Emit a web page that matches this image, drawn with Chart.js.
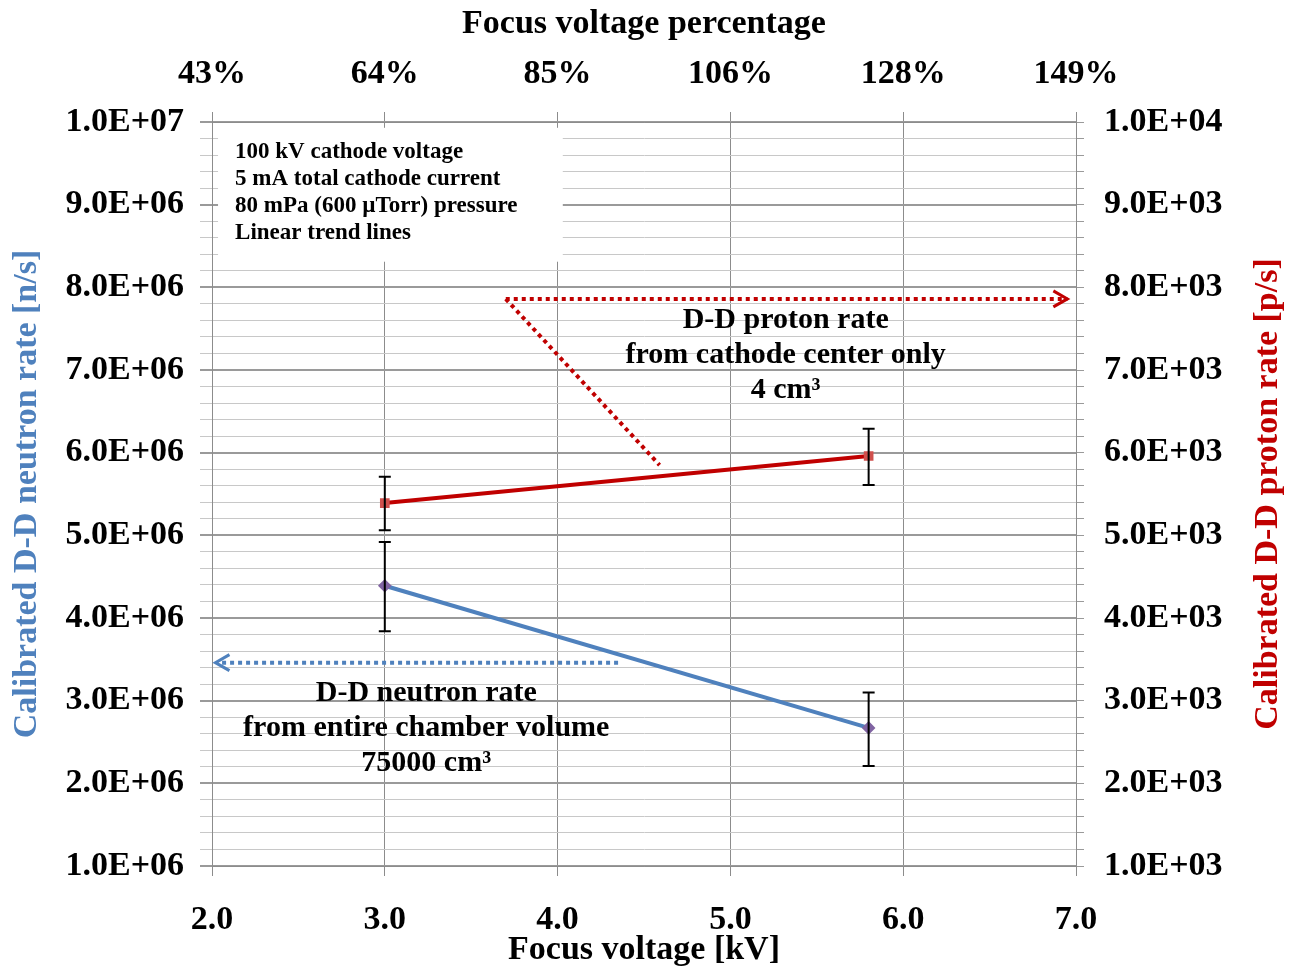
<!DOCTYPE html>
<html lang="en">
<head>
<meta charset="UTF-8">
<title>D-D neutron and proton rates vs focus voltage</title>
<script src="https://cdn.jsdelivr.net/npm/chart.js"></script>
<style>
    body { margin: 0; background: #ffffff; }
    canvas { display: block; }
</style>
</head>
<body>
<canvas id="rateChart" width="1292" height="967"></canvas>
<script>
// focus voltage [kV] for both measurements
const voltageKV = [3.0, 5.8];

// neutron rate, left axis [n/s]
const neutronRate = [4.39e6, 2.67e6];
const neutronLow = [3.84e6, 2.21e6];
const neutronHigh = [4.92e6, 3.10e6];

// proton rate, right axis [p/s]
const protonRate = [5.39e3, 5.96e3];
const protonLow = [5.06e3, 5.61e3];
const protonHigh = [5.71e3, 6.29e3];

// top axis labels (percentage of focus voltage), one per kV tick 2..7
const pctLabels = ['43%', '64%', '85%', '106%', '128%', '149%'];

const boxLines = [
    '100 kV cathode voltage',
    '5 mA total cathode current',
    '80 mPa (600 \u00B5Torr) pressure',
    'Linear trend lines'
];
const protonNote = ['D-D proton rate', 'from cathode center only', '4 cm\u00B3'];
const neutronNote = ['D-D neutron rate', 'from entire chamber volume', '75000 cm\u00B3'];

const BLUE = '#4F81BD';
const RED = '#C00000';
const FONT = '"Liberation Serif", "Times New Roman", serif';

function sci(v, unit) {
    const r = v / unit;
    if (Math.abs(r - Math.round(r)) > 1e-6) return '';
    const e = Math.floor(Math.log10(v) + 1e-9);
    const m = v / Math.pow(10, e);
    return m.toFixed(1) + 'E+' + String(e).padStart(2, '0');
}

function isMajor(v, unit) {
    const r = v / unit;
    return Math.abs(r - Math.round(r)) < 1e-6;
}

// error bars, text box and arrow notes
const extras = {
    id: 'extras',
    beforeDatasetsDraw(chart) {
        const { ctx, scales: { x, y } } = chart;
        // white text box hiding the grid
        const l = x.getPixelForValue(2.035), r = x.getPixelForValue(4.03);
        const t = y.getPixelForValue(9.93e6), b = y.getPixelForValue(8.31e6);
        ctx.save();
        ctx.fillStyle = '#ffffff';
        ctx.fillRect(l, t, r - l, b - t);
        ctx.fillStyle = '#000';
        ctx.font = 'bold 23px ' + FONT;
        ctx.textBaseline = 'middle';
        boxLines.forEach((s, i) => ctx.fillText(s, l + 17, t + 24 + i * 27));
        ctx.restore();
    },
    afterDatasetsDraw(chart) {
        const { ctx, scales: { x, y, y2 } } = chart;
        ctx.save();
        ctx.strokeStyle = '#000';
        ctx.lineWidth = 2;
        const bar = (px, y1, y2p) => {
            ctx.beginPath();
            ctx.moveTo(px, y1); ctx.lineTo(px, y2p);
            ctx.moveTo(px - 6, y1); ctx.lineTo(px + 6, y1);
            ctx.moveTo(px - 6, y2p); ctx.lineTo(px + 6, y2p);
            ctx.stroke();
        };
        voltageKV.forEach((v, i) => {
            const px = x.getPixelForValue(v);
            bar(px, y.getPixelForValue(neutronHigh[i]), y.getPixelForValue(neutronLow[i]));
            bar(px, y2.getPixelForValue(protonHigh[i]), y2.getPixelForValue(protonLow[i]));
        });
        ctx.restore();
    },
    afterDraw(chart) {
        const { ctx, scales: { x, y, y2 }, chartArea } = chart;
        ctx.save();

        // red dotted arrow to the right axis
        const ax = x.getPixelForValue(3.70), ay = y.getPixelForValue(7.86e6);
        const bx = x.getPixelForValue(6.95);
        const dx = x.getPixelForValue(4.59), dy = y.getPixelForValue(5.85e6);
        ctx.strokeStyle = RED;
        ctx.lineWidth = 4;
        ctx.setLineDash([4, 4]);
        ctx.beginPath();
        ctx.moveTo(ax, ay); ctx.lineTo(bx, ay);
        ctx.moveTo(ax, ay); ctx.lineTo(dx, dy);
        ctx.stroke();
        ctx.setLineDash([]);
        ctx.lineWidth = 3;
        ctx.beginPath();
        ctx.moveTo(bx - 14, ay - 8); ctx.lineTo(bx, ay); ctx.lineTo(bx - 14, ay + 8);
        ctx.stroke();

        // blue dotted arrow to the left axis
        const cx = x.getPixelForValue(4.35), cy = y.getPixelForValue(3.46e6);
        const ex = x.getPixelForValue(2.02);
        ctx.strokeStyle = BLUE;
        ctx.lineWidth = 4;
        ctx.setLineDash([4, 4]);
        ctx.beginPath();
        ctx.moveTo(cx, cy); ctx.lineTo(ex + 4, cy);
        ctx.stroke();
        ctx.setLineDash([]);
        ctx.lineWidth = 3;
        ctx.beginPath();
        ctx.moveTo(ex + 14, cy - 8); ctx.lineTo(ex, cy); ctx.lineTo(ex + 14, cy + 8);
        ctx.stroke();

        // notes
        ctx.fillStyle = '#000';
        ctx.font = 'bold 30px ' + FONT;
        ctx.textAlign = 'center';
        ctx.textBaseline = 'middle';
        const px = x.getPixelForValue(5.32), py = y.getPixelForValue(7.60e6);
        protonNote.forEach((s, i) => ctx.fillText(s, px, py + i * 35));
        const nx = x.getPixelForValue(3.24), ny = y.getPixelForValue(3.09e6);
        neutronNote.forEach((s, i) => ctx.fillText(s, nx, ny + i * 35));

        // right axis title, reading bottom to top
        ctx.font = 'bold 34px ' + FONT;
        ctx.fillStyle = RED;
        ctx.translate(y2.right - 24, (chartArea.top + chartArea.bottom) / 2);
        ctx.rotate(-Math.PI / 2);
        ctx.fillText('Calibrated D-D proton rate [p/s]', 0, 0);
        ctx.restore();
    }
};

const tickFont = { family: FONT, size: 34, weight: 'bold' };

new Chart(document.getElementById('rateChart'), {
    type: 'scatter',
    data: {
        datasets: [{
            label: 'D-D neutron rate',
            data: voltageKV.map((v, i) => ({ x: v, y: neutronRate[i] })),
            showLine: true,
            borderColor: BLUE,
            borderWidth: 4,
            pointStyle: 'rectRot',
            pointRadius: 4,
            pointBackgroundColor: '#8064A2',
            pointBorderColor: '#8064A2',
            yAxisID: 'y'
        }, {
            label: 'D-D proton rate',
            data: voltageKV.map((v, i) => ({ x: v, y: protonRate[i] })),
            showLine: true,
            borderColor: RED,
            borderWidth: 4,
            pointStyle: 'rect',
            pointRadius: 4,
            pointBackgroundColor: '#D0504D',
            pointBorderColor: '#D0504D',
            yAxisID: 'y2'
        }]
    },
    options: {
        responsive: false,
        animation: false,
        layout: { padding: 0 },
        plugins: { legend: { display: false }, tooltip: { enabled: false } },
        scales: {
            x: {
                type: 'linear', position: 'bottom', min: 2, max: 7,
                afterFit: s => { s.height = 101; },
                border: { color: '#8c8c8c', width: 1 },
                grid: { color: '#8c8c8c', lineWidth: 1, tickLength: 10 },
                ticks: { stepSize: 1, color: '#000', font: tickFont, padding: 24,
                         callback: v => v.toFixed(1) },
                title: { display: true, text: 'Focus voltage [kV]', color: '#000',
                         font: tickFont, padding: { top: 0, bottom: -4 } }
            },
            x2: {
                type: 'linear', position: 'top', min: 2, max: 7,
                afterFit: s => { s.height = 122; },
                border: { color: '#8c8c8c', width: 1 },
                grid: { color: '#8c8c8c', lineWidth: 1, tickLength: 10, drawOnChartArea: false },
                ticks: { stepSize: 1, color: '#000', font: tickFont, padding: 17,
                         callback: v => pctLabels[Math.round(v - 2)] },
                title: { display: true, text: 'Focus voltage percentage', color: '#000',
                         font: tickFont, padding: { top: 4, bottom: 0 } }
            },
            y: {
                type: 'linear', position: 'left', min: 1e6, max: 1e7,
                afterFit: s => { s.width = 212; },
                border: { color: '#8c8c8c', width: 1 },
                grid: {
                    tickLength: 12,
                    color: c => isMajor(c.tick.value, 1e6) ? '#9a9a9a' : '#c8c8c8',
                    lineWidth: c => isMajor(c.tick.value, 1e6) ? 2 : 1
                },
                ticks: { stepSize: 2e5, maxTicksLimit: 100, autoSkip: false, color: '#000',
                         font: tickFont, padding: 16, callback: v => sci(v, 1e6) },
                title: { display: true, text: 'Calibrated D-D neutron rate [n/s]', color: BLUE,
                         font: tickFont, padding: { top: 7, bottom: 0 } }
            },
            y2: {
                type: 'linear', position: 'right', min: 1e3, max: 1e4,
                afterFit: s => { s.width = 216; },
                border: { color: '#8c8c8c', width: 1 },
                grid: { tickLength: 8, drawOnChartArea: false, color: '#9a9a9a' },
                ticks: { stepSize: 200, maxTicksLimit: 100, autoSkip: false, color: '#000',
                         font: tickFont, padding: 20, callback: v => sci(v, 1e3) },
                title: { display: false }
            }
        }
    },
    plugins: [extras]
});
</script>
</body>
</html>
